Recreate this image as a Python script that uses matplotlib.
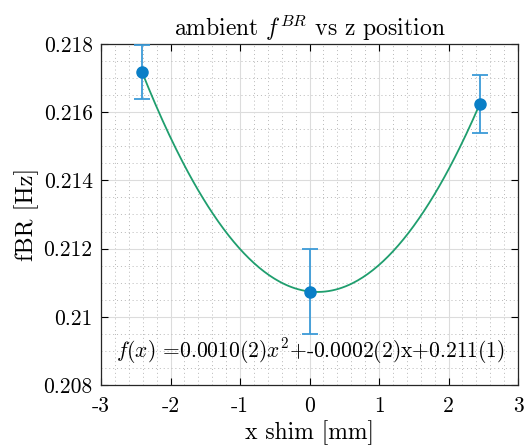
import numpy as np
import matplotlib
matplotlib.use('Agg')
import matplotlib.pyplot as plt
from matplotlib.ticker import MultipleLocator, FuncFormatter

plt.rcParams['font.family'] = 'serif'
plt.rcParams['font.serif'] = ['cmr10', 'DejaVu Serif']
plt.rcParams['mathtext.fontset'] = 'cm'
plt.rcParams['axes.unicode_minus'] = False
plt.rcParams['axes.formatter.use_mathtext'] = True

x_shim = [-2.41, 0.01, 2.45]
f_br = [0.21718, 0.21074, 0.21624]
f_err = [0.0008, 0.00124, 0.00085]
fit_label = r'$f(x)$ =0.0010(2)$x^2$+-0.0002(2)x+0.211(1)'

# quadratic fit through the points
coef = np.polyfit(x_shim, f_br, 2)
xf = np.linspace(min(x_shim), max(x_shim), 200)
yf = np.polyval(coef, xf)

fig = plt.figure(figsize=(5.25, 4.47), dpi=100)
ax = fig.add_axes([0.1924, 0.1387, 0.7943, 0.7629])

ax.plot(xf, yf, color='#1f9e6e', lw=1.3, zorder=2)
ax.errorbar(x_shim, f_br, yerr=f_err, fmt='none', ecolor='#3c9bd8', elinewidth=1.3,
            capsize=6, capthick=1.3, zorder=3)
ax.plot(x_shim, f_br, 'o', color='#0a7fc7', ms=8, zorder=4)

ax.set_xlim(-3, 3)
ax.set_ylim(0.208, 0.218)
ax.xaxis.set_major_locator(MultipleLocator(1))
ax.xaxis.set_minor_locator(MultipleLocator(0.2))
ax.yaxis.set_major_locator(MultipleLocator(0.002))
ax.yaxis.set_minor_locator(MultipleLocator(0.0005))
ax.xaxis.set_major_formatter(FuncFormatter(lambda v, p: '%g' % round(v, 6)))
ax.yaxis.set_major_formatter(FuncFormatter(lambda v, p: '%g' % round(v, 6)))

ax.grid(True, which='major', color='#dcdcdc', lw=0.8)
ax.grid(True, which='minor', color='#b8b8b8', lw=0.7, ls=(0, (1, 3)))
ax.set_axisbelow(True)
ax.tick_params(which='both', direction='in', top=True, right=True, labelsize=15.5)
ax.tick_params(which='major', length=5, width=0.8, pad=6)
ax.tick_params(axis='x', which='major', pad=8)
ax.tick_params(which='minor', length=0)
for s in ax.spines.values():
    s.set_color('#262626')
    s.set_linewidth(0.9)

ax.set_xlabel('x shim [mm]', fontsize=17, labelpad=3)
ax.set_ylabel('fBR [Hz]', fontsize=17.5, labelpad=3)
ax.set_title(r'ambient $f^{BR}$ vs z position', fontsize=17, pad=6)

ax.text(-2.78, 0.2090, fit_label, fontsize=15.5, va='center', ha='left')

fig.savefig('out.png', dpi=100)
